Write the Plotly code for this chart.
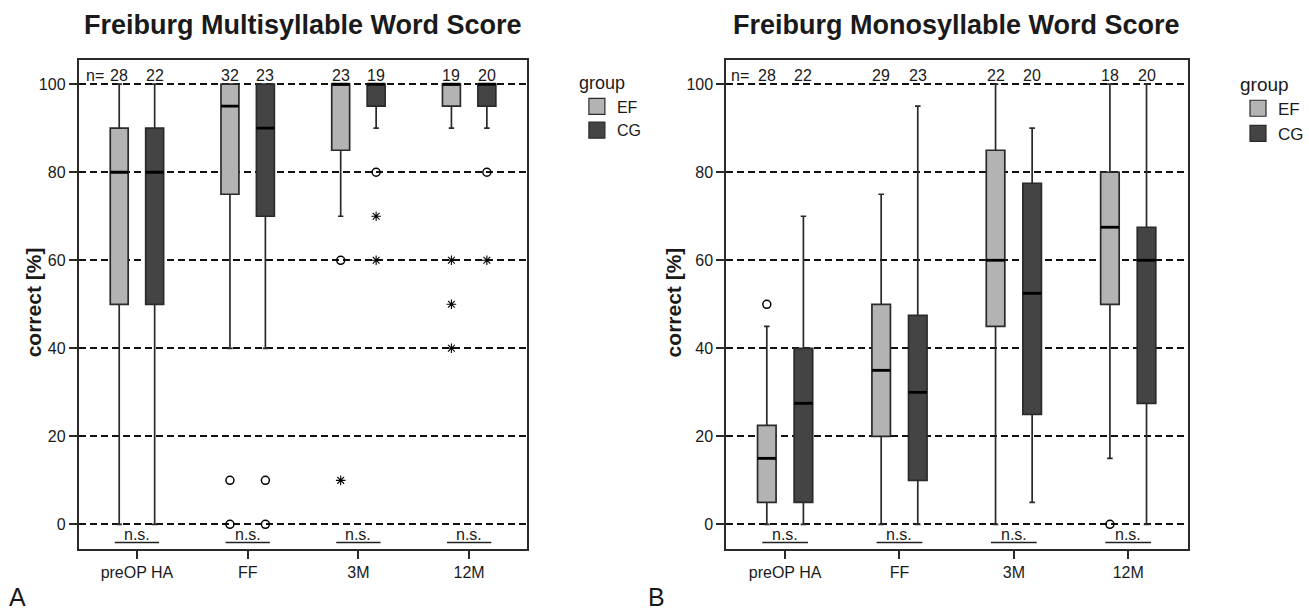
import plotly.graph_objects as go

FONT = "Liberation Sans, Arial, sans-serif"

categories = ["preOP HA", "FF", "3M", "12M"]
groups = ["EF", "CG"]

# ---------- Panel A: Freiburg Multisyllable Word Score ----------
A_EF_lower = [0, 40, 70, 90]
A_EF_q1 = [50, 75, 85, 95]
A_EF_med = [80, 95, 100, 100]
A_EF_q3 = [90, 100, 100, 100]
A_EF_upper = [100, 100, 100, 100]
A_EF_n = [28, 32, 23, 19]

A_CG_lower = [0, 40, 90, 90]
A_CG_q1 = [50, 70, 95, 95]
A_CG_med = [80, 90, 100, 100]
A_CG_q3 = [90, 100, 100, 100]
A_CG_upper = [100, 100, 100, 100]
A_CG_n = [22, 23, 19, 20]

# outliers (category index, value)
A_EF_circ_cat = [1, 1, 2]
A_EF_circ_val = [10, 0, 60]
A_EF_star_cat = [2, 3, 3, 3]
A_EF_star_val = [10, 60, 50, 40]
A_CG_circ_cat = [1, 1, 2, 3]
A_CG_circ_val = [10, 0, 80, 80]
A_CG_star_cat = [2, 2, 3]
A_CG_star_val = [70, 60, 60]

# ---------- Panel B: Freiburg Monosyllable Word Score ----------
B_EF_lower = [0, 0, 0, 15]
B_EF_q1 = [5, 20, 45, 50]
B_EF_med = [15, 35, 60, 67.5]
B_EF_q3 = [22.5, 50, 85, 80]
B_EF_upper = [45, 75, 100, 100]
B_EF_n = [28, 29, 22, 18]

B_CG_lower = [0, 0, 5, 0]
B_CG_q1 = [5, 10, 25, 27.5]
B_CG_med = [27.5, 30, 52.5, 60]
B_CG_q3 = [40, 47.5, 77.5, 67.5]
B_CG_upper = [70, 95, 90, 100]
B_CG_n = [22, 23, 20, 20]

B_EF_circ_cat = [0, 3]
B_EF_circ_val = [50, 0]
B_EF_star_cat = []
B_EF_star_val = []
B_CG_circ_cat = []
B_CG_circ_val = []
B_CG_star_cat = []
B_CG_star_val = []

sig_labels = ["n.s.", "n.s.", "n.s.", "n.s."]

# ---------- styling ----------
COL = {"EF": "#b3b3b3", "CG": "#444444"}
EDGE = "#2a2a2a"
TXT = "#1a1a1a"
OFFSET = {"EF": -0.16, "CG": 0.16}
BOXW = 0.162

panels = {
    "A": dict(xa="x", ya="y",
              EF=dict(lo=A_EF_lower, q1=A_EF_q1, med=A_EF_med, q3=A_EF_q3, hi=A_EF_upper, n=A_EF_n,
                      cc=A_EF_circ_cat, cv=A_EF_circ_val, sc=A_EF_star_cat, sv=A_EF_star_val),
              CG=dict(lo=A_CG_lower, q1=A_CG_q1, med=A_CG_med, q3=A_CG_q3, hi=A_CG_upper, n=A_CG_n,
                      cc=A_CG_circ_cat, cv=A_CG_circ_val, sc=A_CG_star_cat, sv=A_CG_star_val),
              legend="legend"),
    "B": dict(xa="x2", ya="y2",
              EF=dict(lo=B_EF_lower, q1=B_EF_q1, med=B_EF_med, q3=B_EF_q3, hi=B_EF_upper, n=B_EF_n,
                      cc=B_EF_circ_cat, cv=B_EF_circ_val, sc=B_EF_star_cat, sv=B_EF_star_val),
              CG=dict(lo=B_CG_lower, q1=B_CG_q1, med=B_CG_med, q3=B_CG_q3, hi=B_CG_upper, n=B_CG_n,
                      cc=B_CG_circ_cat, cv=B_CG_circ_val, sc=B_CG_star_cat, sv=B_CG_star_val),
              legend="legend2"),
}

fig = go.Figure()
annotations = []

for key, p in panels.items():
    xa, ya = p["xa"], p["ya"]
    for g in groups:
        d = p[g]
        xs = [i + OFFSET[g] for i in range(len(categories))]
        fig.add_trace(go.Box(
            x=xs, q1=d["q1"], median=d["med"], q3=d["q3"],
            lowerfence=d["lo"], upperfence=d["hi"],
            width=BOXW, whiskerwidth=0.3,
            fillcolor=COL[g], line=dict(color=EDGE, width=1.7),
            xaxis=xa, yaxis=ya, showlegend=False, hoverinfo="skip", name=g))
        # thick median lines
        mx, my = [], []
        for x, m in zip(xs, d["med"]):
            mx += [x - BOXW / 2, x + BOXW / 2, None]
            my += [m, m, None]
        fig.add_trace(go.Scatter(x=mx, y=my, mode="lines",
                                 line=dict(color="#000000", width=2.8),
                                 xaxis=xa, yaxis=ya, showlegend=False, hoverinfo="skip"))
        # outliers
        if d["cc"]:
            fig.add_trace(go.Scatter(
                x=[c + OFFSET[g] for c in d["cc"]], y=d["cv"], mode="markers",
                marker=dict(symbol="circle-open", size=8, color="#000000", line=dict(width=1.5)),
                xaxis=xa, yaxis=ya, showlegend=False, hoverinfo="skip"))
        if d["sc"]:
            fig.add_trace(go.Scatter(
                x=[c + OFFSET[g] for c in d["sc"]], y=d["sv"], mode="markers",
                marker=dict(symbol="asterisk-open", size=8, color="#000000",
                            line=dict(width=1.1, color="#000000")),
                xaxis=xa, yaxis=ya, showlegend=False, hoverinfo="skip"))
        # n labels
        for x, n in zip(xs, d["n"]):
            annotations.append(dict(x=x, y=102.0, xref=xa, yref=ya, text=str(n),
                                    showarrow=False, font=dict(size=16, color=TXT, family=FONT),
                                    xanchor="center", yanchor="middle"))
        # legend entries
        fig.add_trace(go.Scatter(
            x=[None], y=[None], mode="markers", name=g,
            marker=dict(symbol="square", size=16, color=COL[g], line=dict(color=EDGE, width=1.2)),
            xaxis=xa, yaxis=ya, legend=p["legend"], showlegend=True))

    # n.s. significance lines
    sx, sy = [], []
    for i, lab in enumerate(sig_labels):
        sx += [i - 0.2, i + 0.2, None]
        sy += [-4.1, -4.1, None]
        annotations.append(dict(x=i, y=-2.2, xref=xa, yref=ya, text=lab, showarrow=False,
                                font=dict(size=16, color=TXT, family=FONT),
                                xanchor="center", yanchor="middle"))
    fig.add_trace(go.Scatter(x=sx, y=sy, mode="lines", line=dict(color="#222222", width=1.5),
                             xaxis=xa, yaxis=ya, showlegend=False, hoverinfo="skip"))

    annotations.append(dict(x=0.012 if key == "A" else 0.007, y=102.0, xref=xa + " domain", yref=ya,
                            text="n=", showarrow=False, font=dict(size=16, color=TXT, family=FONT),
                            xanchor="left", yanchor="middle"))

W, H = 1309, 613
def px_x(v):
    return v / W
def px_y(v):
    return 1 - v / H

# titles
annotations.append(dict(x=px_x(304.5), y=px_y(25), xref="paper", yref="paper",
                        text="<b>Freiburg Multisyllable Word Score</b>", showarrow=False,
                        font=dict(size=27, color=TXT, family=FONT), xanchor="center", yanchor="middle"))
annotations.append(dict(x=px_x(962), y=px_y(25), xref="paper", yref="paper",
                        text="<b>Freiburg Monosyllable Word Score</b>", showarrow=False,
                        font=dict(size=27, color=TXT, family=FONT), xanchor="center", yanchor="middle"))
# y axis titles
for xc in (33.5, 677):
    annotations.append(dict(x=px_x(xc), y=px_y(302), xref="paper", yref="paper",
                            text="<b>correct [%]</b>", showarrow=False, textangle=-90,
                            font=dict(size=21, color=TXT, family=FONT), xanchor="center", yanchor="middle"))
# panel letters
annotations.append(dict(x=px_x(18), y=px_y(612), xref="paper", yref="paper", text="A", showarrow=False,
                        font=dict(size=25, color=TXT, family=FONT), xanchor="center", yanchor="bottom",
                        borderpad=0))
annotations.append(dict(x=px_x(660), y=px_y(612), xref="paper", yref="paper", text="B", showarrow=False,
                        font=dict(size=25, color=TXT, family=FONT), xanchor="center", yanchor="bottom",
                        borderpad=0))

common_x = dict(tickvals=list(range(len(categories))), ticktext=categories, ticks="outside",
                ticklen=8, tickwidth=1.5, tickcolor=EDGE, showline=True, linecolor=EDGE, linewidth=1.6,
                mirror=True, showgrid=False, zeroline=False,
                tickfont=dict(size=16, color=TXT, family=FONT))
common_y = dict(range=[-5.6, 105.5], tickvals=[0, 20, 40, 60, 80, 100], ticks="outside",
                ticklen=8, tickwidth=1.5, tickcolor=EDGE, showline=True, linecolor=EDGE, linewidth=1.6,
                mirror=True, showgrid=True, gridcolor="#111111", gridwidth=1.5, griddash="7px,4px",
                zeroline=False, tickfont=dict(size=16, color=TXT, family=FONT))

y_dom = [1 - 549 / H, 1 - 60 / H]
fig.update_layout(
    width=W, height=H, margin=dict(l=0, r=0, t=0, b=0),
    paper_bgcolor="white", plot_bgcolor="white",
    font=dict(family=FONT, color=TXT),
    xaxis=dict(domain=[79 / W, 530 / W], range=[-0.527, 3.524], anchor="y", **common_x),
    yaxis=dict(domain=y_dom, anchor="x", **common_y),
    xaxis2=dict(domain=[730 / W, 1194.3 / W], range=[-0.516, 3.522], anchor="y2", **common_x),
    yaxis2=dict(domain=y_dom, anchor="x2", **common_y),
    legend=dict(x=px_x(580), y=px_y(66), xanchor="left", yanchor="top",
                title=dict(text="group", font=dict(size=18, color=TXT, family=FONT)),
                font=dict(size=16, color=TXT, family=FONT), bgcolor="rgba(0,0,0,0)",
                itemwidth=30, tracegroupgap=0),
    legend2=dict(x=px_x(1245), y=px_y(66), xanchor="left", yanchor="top",
                 title=dict(text="group", font=dict(size=19, color=TXT, family=FONT)),
                 font=dict(size=17, color=TXT, family=FONT), bgcolor="rgba(0,0,0,0)",
                 itemwidth=30, tracegroupgap=0),
    annotations=annotations,
)

fig.write_html("out.html")
